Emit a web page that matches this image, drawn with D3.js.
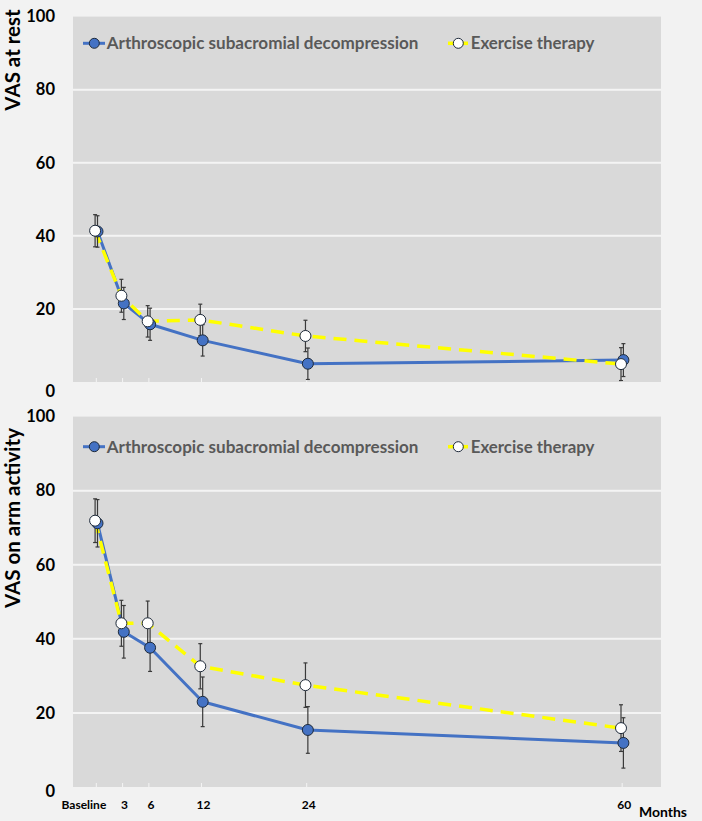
<!DOCTYPE html>
<html><head><meta charset="utf-8">
<script src="https://cdn.jsdelivr.net/npm/d3@7"></script>
<style>html,body{margin:0;padding:0;background:#f2f2f2;}svg{display:block;}</style>
</head><body>
<svg id="chart" width="702" height="821"></svg>
<script>
// ---- data ----
const months = [0, 3, 6, 12, 24, 60];
const tickLabels = ["Baseline", "3", "6", "12", "24", "60"];
const yTicks = [0, 20, 40, 60, 80, 100];
const seriesNames = ["Arthroscopic subacromial decompression", "Exercise therapy"];
const restASD    = [41.2, 21.5, 15.8, 11.4, 5.0, 6.0];
const restASDerr = [4.3, 4.4, 4.4, 4.3, 4.3, 4.5];
const restET     = [41.4, 23.6, 16.6, 17.0, 12.6, 4.9];
const restETerr  = [4.4, 4.5, 4.3, 4.3, 4.3, 4.5];
const armASD     = [71.2, 41.9, 37.6, 23.0, 15.4, 11.9];
const armASDerr  = [6.4, 7.1, 6.4, 6.7, 6.3, 6.8];
const armET      = [71.9, 44.2, 44.2, 32.6, 27.5, 15.9];
const armETerr   = [5.9, 6.2, 6.0, 6.1, 6.0, 6.3];
const panelTitles = ["VAS at rest", "VAS on arm activity"];

const svg = d3.select("#chart");
const X0 = 73, X1 = 661;
const x = d3.scaleLinear().domain([0, 60]).range([96.3, 622.2]);

function fitText(sel, target) {
  const node = sel.node();
  const fs = parseFloat(sel.attr("font-size"));
  const w = node.getComputedTextLength();
  if (w > 0) sel.attr("font-size", (fs * target / w).toFixed(2));
}

const panels = [
  {title: panelTitles[0], asd: restASD, asdE: restASDerr, et: restET, etE: restETerr,
   yr: [382, 16.6], legY: 43.3, titleC: 60, zeroDy: 9, showX: false},
  {title: panelTitles[1], asd: armASD, asdE: armASDerr, et: armET, etE: armETerr,
   yr: [787, 416.6], legY: 446.7, titleC: 518, zeroDy: 4, showX: true}
];

panels.forEach(p => {
  const y = d3.scaleLinear().domain([0, 100]).range(p.yr);
  const g = svg.append("g");
  g.append("rect").attr("x", X0).attr("y", y(100)).attr("width", X1 - X0)
    .attr("height", y(0) - y(100)).attr("fill", "#d9d9d9");
  g.selectAll(".grid").data(yTicks.filter(t => t > 0 && t < 100)).enter().append("line")
    .attr("x1", X0).attr("x2", X1).attr("y1", d => y(d)).attr("y2", d => y(d))
    .attr("stroke", "#f4f4f4").attr("stroke-width", 2);
  g.selectAll(".yl").data(yTicks).enter().append("text")
    .attr("x", 55).attr("y", d => y(d) + (d === 0 ? p.zeroDy : 0)).attr("dy", "0.35em")
    .attr("text-anchor", "end").attr("font-family", "Lato").attr("font-weight", "bold")
    .attr("font-size", 16.5).attr("fill", "#000").text(d => d);
  g.selectAll(".xt").data(months).enter().append("line")
    .attr("x1", d => x(d)).attr("x2", d => x(d)).attr("y1", y(0)).attr("y2", y(0) - 4)
    .attr("stroke", "#f4f4f4").attr("stroke-width", 1);
  if (p.showX) {
    g.selectAll(".xl").data(months).enter().append("text")
      .attr("x", (d, i) => i === 0 ? x(d) + 10 : x(d) + 2)
      .attr("y", 809).attr("text-anchor", (d, i) => i === 0 ? "end" : "middle")
      .attr("font-family", "Lato").attr("font-weight", "bold").attr("font-size", 12)
      .attr("fill", "#000").text((d, i) => tickLabels[i]);
    const m = g.append("text").attr("x", 639).attr("y", 817).attr("font-family", "Lato")
      .attr("font-weight", "bold").attr("font-size", 14).attr("fill", "#000").text("Months");
    fitText(m, 48);
  }
  g.append("text").attr("transform", `translate(20,${p.titleC}) rotate(-90)`)
    .attr("text-anchor", "middle").attr("font-family", "Lato").attr("font-weight", "bold")
    .attr("font-size", 20.5).attr("fill", "#000").text(p.title);

  const series = [
    {v: p.asd, e: p.asdE, off: 1.2, color: "#4472c4", fill: "#4472c4", dash: null, w: 3},
    {v: p.et, e: p.etE, off: -1.2, color: "#ffff00", fill: "#ffffff", dash: "13,8", w: 3.5}
  ];
  const line = d3.line();
  series.forEach(s => {
    const pts = months.map((m, i) => [x(m) + s.off, y(s.v[i])]);
    g.append("path").attr("d", line(pts)).attr("fill", "none").attr("stroke", s.color)
      .attr("stroke-width", s.w).attr("stroke-dasharray", s.dash).attr("stroke-linejoin", "round");
  });
  series.forEach(s => {
    const eg = g.append("g").attr("stroke", "#3a3a3a").attr("stroke-width", 1.2);
    months.forEach((m, i) => {
      const cx = x(m) + s.off, top = y(s.v[i] + s.e[i]), bot = y(Math.max(0, s.v[i] - s.e[i]));
      eg.append("line").attr("x1", cx).attr("x2", cx).attr("y1", top).attr("y2", bot);
      eg.append("line").attr("x1", cx - 2).attr("x2", cx + 2).attr("y1", top).attr("y2", top);
      eg.append("line").attr("x1", cx - 2).attr("x2", cx + 2).attr("y1", bot).attr("y2", bot);
    });
  });
  series.forEach(s => {
    g.selectAll(null).data(months).enter().append("circle")
      .attr("cx", d => x(d) + s.off).attr("cy", (d, i) => y(s.v[i])).attr("r", 5.5)
      .attr("fill", s.fill).attr("stroke", "#1e2a3a").attr("stroke-width", 1);
  });
  const lg = g.append("g");
  lg.append("line").attr("x1", 83).attr("x2", 105).attr("y1", p.legY).attr("y2", p.legY)
    .attr("stroke", "#4472c4").attr("stroke-width", 3);
  lg.append("circle").attr("cx", 94.3).attr("cy", p.legY).attr("r", 5)
    .attr("fill", "#4472c4").attr("stroke", "#1e2a3a").attr("stroke-width", 1);
  const t1 = lg.append("text").attr("x", 106.7).attr("y", p.legY).attr("dy", "0.36em")
    .attr("font-family", "Lato").attr("font-weight", "bold").attr("font-size", 18)
    .attr("fill", "#595959").text(seriesNames[0]);
  fitText(t1, 312);
  lg.append("line").attr("x1", 448).attr("x2", 468).attr("y1", p.legY).attr("y2", p.legY)
    .attr("stroke", "#ffff00").attr("stroke-width", 3.5);
  lg.append("circle").attr("cx", 458.3).attr("cy", p.legY).attr("r", 5)
    .attr("fill", "#fff").attr("stroke", "#1e2a3a").attr("stroke-width", 1);
  const t2 = lg.append("text").attr("x", 470.7).attr("y", p.legY).attr("dy", "0.36em")
    .attr("font-family", "Lato").attr("font-weight", "bold").attr("font-size", 18)
    .attr("fill", "#595959").text(seriesNames[1]);
  fitText(t2, 124);
});
</script>
</body></html>
